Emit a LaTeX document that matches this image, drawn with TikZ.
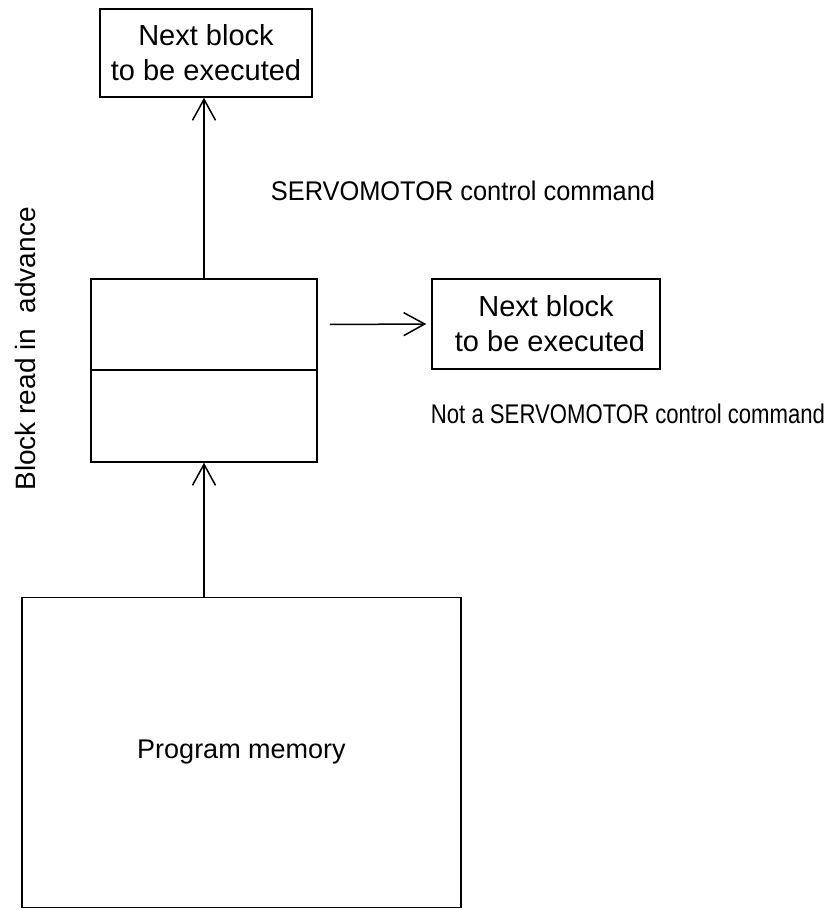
\documentclass[tikz,border=0pt]{standalone}
\usepackage{fontspec}
\setmainfont{Liberation Sans}
\usetikzlibrary{arrows.meta}
\begin{document}
\begin{tikzpicture}[x=1pt,y=-1pt,
  every node/.style={font=\fontsize{27}{34}\selectfont},
  box/.style={draw,line width=1.5pt,rectangle,inner sep=0pt,align=center},
  boxtxt/.style={font=\fontsize{29}{35}\selectfont},
  lbl/.style={inner sep=0pt},
  arr/.style={line width=1.5pt,-{Straight Barb[length=21pt,width=23pt,line width=1.5pt]}}]
\useasboundingbox (0,0) rectangle (826,909);
\node[box,boxtxt,minimum width=212pt,minimum height=88pt] (top) at (206,53) {Next block\\to be executed};
\node[box,minimum width=226pt,minimum height=91pt] (mtop) at (204,324.5) {};
\node[box,minimum width=226pt,minimum height=92pt] (mbot) at (204,416) {};
\node[box,boxtxt,minimum width=228pt,minimum height=90pt] (right) at (546,324) {Next block\\\ to be executed};
\node[box,minimum width=439pt,minimum height=310pt] (mem) at (241.5,752.5) {Program memory};
\node[lbl] (servo) at (463,191) {\scalebox{0.94}[1]{SERVOMOTOR control command}};
\node[lbl] (notservo) at (628,414) {\scalebox{0.82}[1]{Not a SERVOMOTOR control command}};
\node[lbl,rotate=90,font=\fontsize{28}{34}\selectfont] (read) at (25,349) {Block read in~~advance};
\draw[arr] (mtop.north) -- (top.south -| mtop.north);
\draw[arr] (mem.north -| mbot.south) -- (mbot.south);
\draw[arr] ([xshift=12pt]mtop.east) -- ([xshift=-5pt]right.west);
\end{tikzpicture}
\end{document}
